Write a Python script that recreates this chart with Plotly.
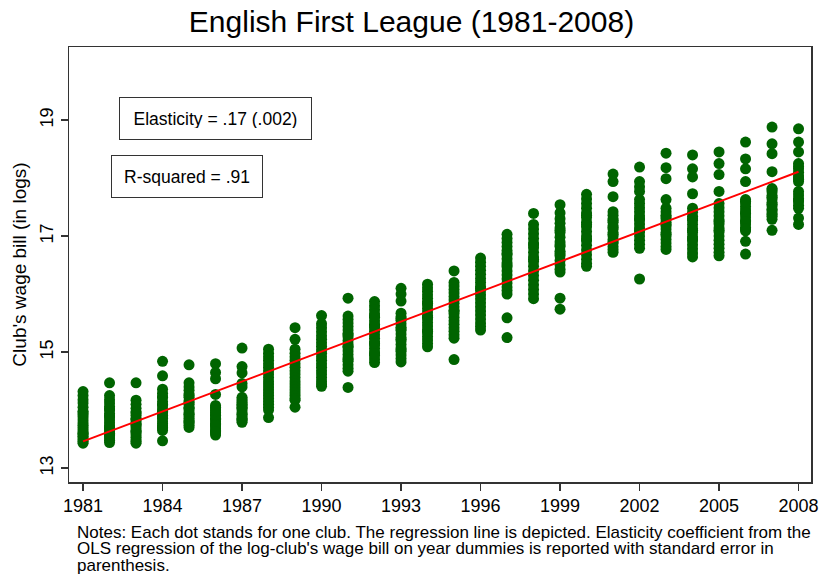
import plotly.graph_objects as go

# ---- data (log club wage bill, one value per club) ----
w1981 = [14.32, 14.25, 14.18, 14.12, 14.05, 13.98, 13.92, 13.88, 13.83, 13.78, 13.74, 13.70, 13.66, 13.62, 13.58, 13.55, 13.52, 13.49, 13.46, 13.43, 13.60, 13.95]
w1982 = [14.47, 14.25, 14.18, 14.12, 14.06, 14.00, 13.94, 13.88, 13.83, 13.78, 13.73, 13.68, 13.64, 13.60, 13.56, 13.52, 13.48, 13.44, 13.70, 13.90, 14.02, 13.58]
w1983 = [14.47, 14.17, 14.10, 14.03, 13.97, 13.91, 13.86, 13.81, 13.77, 13.73, 13.69, 13.65, 13.61, 13.57, 13.53, 13.49, 13.46, 13.43, 13.84, 13.63, 13.75, 13.95]
w1984 = [14.84, 14.59, 14.36, 14.29, 14.22, 14.15, 14.08, 14.02, 13.96, 13.91, 13.86, 13.81, 13.77, 13.73, 13.69, 13.65, 13.47, 13.88, 14.10, 14.23, 13.98, 13.70]
w1985 = [14.78, 14.47, 14.40, 14.34, 14.28, 14.22, 14.16, 14.10, 14.05, 14.00, 13.95, 13.90, 13.86, 13.82, 13.78, 13.74, 13.70, 14.13, 14.25, 13.93, 13.80, 14.03]
w1986 = [14.80, 14.65, 14.54, 14.27, 14.08, 14.02, 13.96, 13.91, 13.86, 13.81, 13.77, 13.73, 13.69, 13.65, 13.61, 13.57, 14.05, 13.84, 13.75, 13.63, 13.92, 13.99]
w1987 = [15.07, 14.75, 14.64, 14.46, 14.40, 14.22, 14.16, 14.10, 14.05, 14.00, 13.95, 13.90, 13.86, 13.82, 13.79, 14.13, 14.03, 13.93, 14.19, 13.84, 14.08]
w1988 = [15.05, 14.98, 14.92, 14.86, 14.80, 14.74, 14.68, 14.62, 14.56, 14.50, 14.45, 14.40, 14.35, 14.30, 14.25, 14.20, 14.15, 14.10, 14.05, 14.00, 13.87]
w1989 = [15.42, 15.22, 15.05, 14.98, 14.92, 14.86, 14.80, 14.74, 14.68, 14.62, 14.56, 14.50, 14.45, 14.40, 14.35, 14.30, 14.25, 14.20, 14.17, 14.05]
w1990 = [15.63, 15.49, 15.42, 15.35, 15.28, 15.22, 15.16, 15.10, 15.04, 14.98, 14.92, 14.86, 14.80, 14.74, 14.68, 14.62, 14.56, 14.50, 14.45, 14.41]
w1991 = [15.93, 15.62, 15.56, 15.50, 15.44, 15.38, 15.32, 15.26, 15.20, 15.14, 15.08, 15.02, 14.96, 14.90, 14.84, 14.78, 14.72, 14.67, 14.39, 15.30, 15.10, 14.87]
w1992 = [15.87, 15.80, 15.73, 15.66, 15.60, 15.54, 15.48, 15.42, 15.36, 15.30, 15.24, 15.18, 15.12, 15.06, 15.00, 14.94, 14.88, 14.82, 15.45, 15.15, 15.62, 14.97]
w1993 = [16.10, 16.00, 15.88, 15.67, 15.61, 15.55, 15.49, 15.43, 15.37, 15.31, 15.25, 15.19, 15.13, 15.07, 15.01, 14.95, 14.89, 14.83, 15.40, 15.22, 15.58, 15.04]
w1994 = [16.17, 16.11, 16.05, 15.99, 15.93, 15.87, 15.81, 15.75, 15.69, 15.63, 15.57, 15.51, 15.45, 15.39, 15.33, 15.27, 15.21, 15.15, 15.09, 15.60, 15.84, 15.36]
w1995 = [16.40, 16.20, 16.14, 16.08, 16.02, 15.96, 15.90, 15.84, 15.78, 15.72, 15.66, 15.60, 15.54, 15.48, 15.42, 15.36, 15.30, 15.24, 14.87, 15.70]
w1996 = [16.62, 16.55, 16.48, 16.41, 16.34, 16.27, 16.20, 16.13, 16.06, 15.99, 15.92, 15.85, 15.78, 15.71, 15.64, 15.57, 15.50, 15.44, 15.38, 16.10]
w1997 = [17.03, 16.96, 16.89, 16.82, 16.75, 16.68, 16.61, 16.54, 16.47, 16.40, 16.33, 16.26, 16.19, 16.12, 16.06, 16.00, 15.59, 15.25, 16.70, 16.50]
w1998 = [17.39, 17.20, 17.12, 17.04, 16.96, 16.88, 16.80, 16.72, 16.64, 16.56, 16.48, 16.40, 16.32, 16.24, 16.16, 16.08, 16.00, 15.92, 16.60, 16.85]
w1999 = [17.54, 17.40, 17.30, 17.22, 17.14, 17.06, 16.98, 16.90, 16.82, 16.74, 16.66, 16.58, 16.50, 16.43, 16.38, 15.93, 15.74, 17.10, 16.70, 16.85]
w2000 = [17.72, 17.64, 17.56, 17.48, 17.40, 17.32, 17.24, 17.16, 17.08, 17.00, 16.92, 16.84, 16.76, 16.68, 16.60, 16.53, 16.48, 17.20, 16.95, 17.36]
w2001 = [18.07, 17.94, 17.68, 17.42, 17.36, 17.30, 17.24, 17.18, 17.12, 17.06, 17.00, 16.94, 16.88, 16.82, 16.77, 16.72, 17.27, 17.03, 16.90, 17.15]
w2002 = [18.19, 17.94, 17.85, 17.77, 17.63, 17.56, 17.49, 17.42, 17.35, 17.28, 17.21, 17.14, 17.07, 17.00, 16.93, 16.86, 16.79, 16.26, 17.30, 17.10]
w2003 = [18.43, 18.18, 17.99, 17.63, 17.48, 17.42, 17.36, 17.30, 17.24, 17.18, 17.12, 17.06, 17.00, 16.94, 16.88, 16.82, 16.77, 17.20, 17.03, 17.33]
w2004 = [18.40, 18.16, 18.02, 17.73, 17.48, 17.41, 17.34, 17.27, 17.20, 17.13, 17.06, 16.99, 16.92, 16.85, 16.78, 16.71, 16.64, 17.10, 16.95, 17.30]
w2005 = [18.45, 18.25, 18.06, 17.77, 17.56, 17.49, 17.42, 17.35, 17.28, 17.21, 17.14, 17.07, 17.00, 16.93, 16.86, 16.79, 16.72, 16.66, 17.25, 17.10]
w2006 = [18.62, 18.33, 18.16, 17.94, 17.63, 17.57, 17.51, 17.45, 17.39, 17.33, 17.27, 17.21, 17.15, 17.09, 16.91, 16.69, 17.60, 17.40, 17.25, 17.12]
w2007 = [18.88, 18.59, 18.42, 18.11, 17.82, 17.76, 17.70, 17.64, 17.58, 17.52, 17.46, 17.40, 17.34, 17.29, 17.10, 17.80, 17.55, 17.45, 17.67, 17.37]
w2008 = [18.85, 18.62, 18.45, 18.25, 18.16, 18.10, 18.04, 17.98, 17.94, 17.77, 17.71, 17.65, 17.59, 17.53, 17.48, 17.31, 17.20, 18.20, 17.62, 18.00]

years = list(range(1981, 2009))
wage_lists = [w1981, w1982, w1983, w1984, w1985, w1986, w1987, w1988, w1989, w1990,
              w1991, w1992, w1993, w1994, w1995, w1996, w1997, w1998, w1999, w2000,
              w2001, w2002, w2003, w2004, w2005, w2006, w2007, w2008]

# regression line (fitted values at the end years)
reg_years = [1981, 2008]
reg_fit = [13.46, 18.11]

x_ticks = [1981, 1984, 1987, 1990, 1993, 1996, 1999, 2002, 2005, 2008]
y_ticks = [13, 15, 17, 19]

title_text = "English First League (1981-2008)"
ytitle_text = "Club's wage bill (in logs)"
elasticity_text = "Elasticity = .17 (.002)"
rsq_text = "R-squared = .91"
notes_lines = [
    "Notes: Each dot stands for one club. The regression line is depicted. Elasticity coefficient from the",
    "OLS regression of the log-club's wage bill on year dummies is reported with standard error in",
    "parenthesis.",
]

xs, ys = [], []
for yr, vals in zip(years, wage_lists):
    xs += [yr] * len(vals)
    ys += vals

FONT = "Liberation Sans, Arial, Helvetica, sans-serif"
ML, MR, MT, MB = 69, 12, 47, 94
W, H = 823, 576

fig = go.Figure()
fig.add_trace(go.Scatter(
    x=xs, y=ys, mode="markers",
    marker=dict(color="#006400", size=11, line=dict(width=0)),
    showlegend=False, hoverinfo="skip",
))
fig.add_trace(go.Scatter(
    x=reg_years, y=reg_fit, mode="lines",
    line=dict(color="#ff0000", width=2),
    showlegend=False, hoverinfo="skip",
))

axis_common = dict(
    showgrid=False, zeroline=False, showline=True, mirror=True, automargin=False,
    linecolor="#333333", linewidth=1.5, ticks="outside", ticklen=7,
    tickcolor="#333333", tickwidth=1.2,
    tickfont=dict(family=FONT, size=18, color="#000000"),
)

fig.update_layout(
    width=W, height=H,
    margin=dict(l=ML, r=MR, t=MT, b=MB, autoexpand=False),
    paper_bgcolor="white", plot_bgcolor="white",
    font=dict(family=FONT, color="#000000"),
    title=dict(text=title_text, x=0.5, xanchor="center", y=0.962, yanchor="middle",
               font=dict(family=FONT, size=30, color="#000000")),
    xaxis=dict(range=[1980.47, 2008.47], tickmode="array", tickvals=x_ticks,
               ticktext=[str(t) for t in x_ticks], **axis_common),
    yaxis=dict(range=[12.76, 20.26], tickmode="array", tickvals=y_ticks,
               ticktext=[str(t) for t in y_ticks], tickangle=-90,
               title=dict(text=ytitle_text, font=dict(family=FONT, size=19, color="#000000"),
                          standoff=5),
               **axis_common),
)

fig.add_annotation(x=1986.0, y=19.03, xref="x", yref="y", text=elasticity_text,
                   showarrow=False, font=dict(family=FONT, size=17.5, color="#000000"),
                   bordercolor="#333333", borderwidth=1, borderpad=11,
                   width=169, height=19, bgcolor="white")
fig.add_annotation(x=1984.92, y=18.03, xref="x", yref="y", text=rsq_text,
                   showarrow=False, font=dict(family=FONT, size=17.5, color="#000000"),
                   bordercolor="#333333", borderwidth=1, borderpad=11,
                   width=128, height=19, bgcolor="white")

pw = W - ML - MR
ph = H - MT - MB
note_x_px = 75
note_y0_px = 532
note_step_px = 16.5
for i, line in enumerate(notes_lines):
    py = note_y0_px + i * note_step_px
    fig.add_annotation(x=(note_x_px - ML) / pw, y=(H - MB - py) / ph,
                       xref="paper", yref="paper",
                       text=line, showarrow=False, xanchor="left", yanchor="middle",
                       font=dict(family=FONT, size=17, color="#000000"))

fig.write_html("out.html", config={"displayModeBar": False, "staticPlot": True},
               post_script="document.body.style.margin='0px';document.body.style.padding='0px';")
